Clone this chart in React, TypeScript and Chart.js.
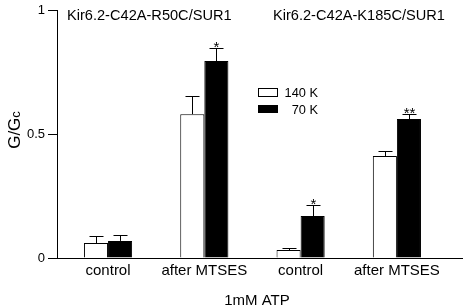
import React, { useEffect, useRef } from "react";
import { Chart, registerables } from "chart.js";

Chart.register(...registerables);

const categories = ["control", "after MTSES", "control", "after MTSES"];
const seriesNames = ["140 K", "70 K"];
const values140K = [0.06, 0.58, 0.032, 0.411];
const errors140K = [0.029, 0.073, 0.008, 0.02];
const values70K = [0.069, 0.794, 0.169, 0.56];
const errors70K = [0.024, 0.053, 0.045, 0.02];
const stars70K = ["", "*", "*", "**"];
const yTicks = [0, 0.5, 1];
const panelTitles = ["Kir6.2-C42A-R50C/SUR1", "Kir6.2-C42A-K185C/SUR1"];
const xTitle = "1mM ATP";

const FONT = "'Liberation Sans', Arial, sans-serif";

const overlayPlugin = {
  id: "overlay",
  afterDraw(chart: any) {
    const ctx = chart.ctx;
    const ys = chart.scales.y;
    const errSets = [errors140K, errors70K];
    const valSets = [values140K, values70K];
    ctx.save();
    ctx.strokeStyle = "#000";
    ctx.fillStyle = "#000";
    ctx.lineWidth = 1;
    // error bars
    for (let d = 0; d < 2; d++) {
      const meta = chart.getDatasetMeta(d);
      meta.data.forEach((bar: any, i: number) => {
        const x = Math.round(bar.x) + 0.5;
        const yb = bar.y;
        const yt = Math.round(ys.getPixelForValue(valSets[d][i] + errSets[d][i])) + 0.5;
        ctx.beginPath();
        ctx.moveTo(x, yb);
        ctx.lineTo(x, yt);
        ctx.moveTo(x - 7, yt);
        ctx.lineTo(x + 7, yt);
        ctx.stroke();
        if (d === 1 && stars70K[i]) {
          ctx.font = `15px ${FONT}`;
          ctx.textAlign = "center";
          ctx.textBaseline = "alphabetic";
          ctx.fillText(stars70K[i], x, yt + 3);
        }
      });
    }
    // panel titles
    ctx.font = `14.6px ${FONT}`;
    ctx.textAlign = "left";
    ctx.textBaseline = "middle";
    ctx.fillText(panelTitles[0], 67, 16);
    ctx.fillText(panelTitles[1], 273, 16);
    // legend
    ctx.fillStyle = "#fff";
    ctx.fillRect(258.5, 88.5, 19, 8);
    ctx.strokeRect(258.5, 88.5, 19, 8);
    ctx.fillStyle = "#000";
    ctx.fillRect(258, 105, 20, 8);
    ctx.font = `12.8px ${FONT}`;
    ctx.textAlign = "right";
    ctx.textBaseline = "middle";
    ctx.fillText(seriesNames[0], 318, 93);
    ctx.fillText(seriesNames[1], 318, 110);
    // x title
    ctx.font = `15px ${FONT}`;
    ctx.textAlign = "center";
    ctx.fillText(xTitle, 257, 301);
    // y title
    ctx.translate(20, 130);
    ctx.rotate(-Math.PI / 2);
    ctx.textAlign = "left";
    ctx.textBaseline = "alphabetic";
    ctx.font = `17px ${FONT}`;
    const main = "G/G";
    const w = ctx.measureText(main).width;
    ctx.font = `13px ${FONT}`;
    const ws = ctx.measureText("c").width;
    const start = -(w + ws) / 2;
    ctx.font = `17px ${FONT}`;
    ctx.fillText(main, start, 0);
    ctx.font = `13px ${FONT}`;
    ctx.fillText("c", start + w, 0);
    ctx.restore();
  },
};

export default function App() {
  const ref = useRef<HTMLCanvasElement | null>(null);
  useEffect(() => {
    if (!ref.current) return;
    const chart = new Chart(ref.current, {
      type: "bar",
      data: {
        datasets: [
          {
            label: seriesNames[0],
            data: values140K.map((v, i) => ({ x: i, y: v })),
            backgroundColor: "#fff",
            borderColor: "#000",
            borderWidth: 1,
            borderSkipped: "bottom",
            categoryPercentage: 0.5,
            barPercentage: 1,
          },
          {
            label: seriesNames[1],
            data: values70K.map((v, i) => ({ x: i, y: v })),
            backgroundColor: "#000",
            borderColor: "#000",
            borderWidth: 1,
            borderSkipped: "bottom",
            categoryPercentage: 0.5,
            barPercentage: 1,
          },
        ],
      },
      options: {
        responsive: false,
        animation: false,
        devicePixelRatio: 1,
        layout: { padding: { top: 10, right: 3, left: 0, bottom: 0 } },
        plugins: { legend: { display: false }, tooltip: { enabled: false } },
        scales: {
          x: {
            type: "linear",
            min: -0.53,
            max: 3.676,
            offset: false,
            grid: { display: false, drawTicks: false, tickLength: 0 },
            border: { display: true, color: "#000", width: 1 },
            afterBuildTicks: (s: any) => {
              s.ticks = categories.map((_, i) => ({ value: i }));
            },
            ticks: {
              color: "#000",
              font: { family: FONT, size: 15 },
              padding: 4,
              maxRotation: 0,
              autoSkip: false,
              callback: (v: any) => categories[v as number],
            },
            afterFit: (s: any) => {
              s.height = 50;
              s.paddingLeft = 0;
              s.paddingRight = 0;
            },
          },
          y: {
            min: 0,
            max: 1,
            afterBuildTicks: (s: any) => {
              s.ticks = yTicks.map((v) => ({ value: v }));
            },
            grid: {
              display: true,
              drawOnChartArea: false,
              drawTicks: true,
              tickLength: 9,
              color: "#000",
            },
            border: { display: true, color: "#000", width: 1 },
            ticks: {
              color: "#000",
              font: { family: FONT, size: 13 },
              padding: 3,
              callback: (v: any) => String(v),
            },
            afterFit: (s: any) => {
              s.width = 57;
              s.paddingTop = 0;
              s.paddingBottom = 0;
            },
          },
        },
      },
      plugins: [overlayPlugin],
    });
    return () => chart.destroy();
  }, []);
  return (
    <div style={{ position: "fixed", left: 0, top: 0, width: 465, height: 308, background: "#fff" }}>
      <canvas ref={ref} width={465} height={308} />
    </div>
  );
}
